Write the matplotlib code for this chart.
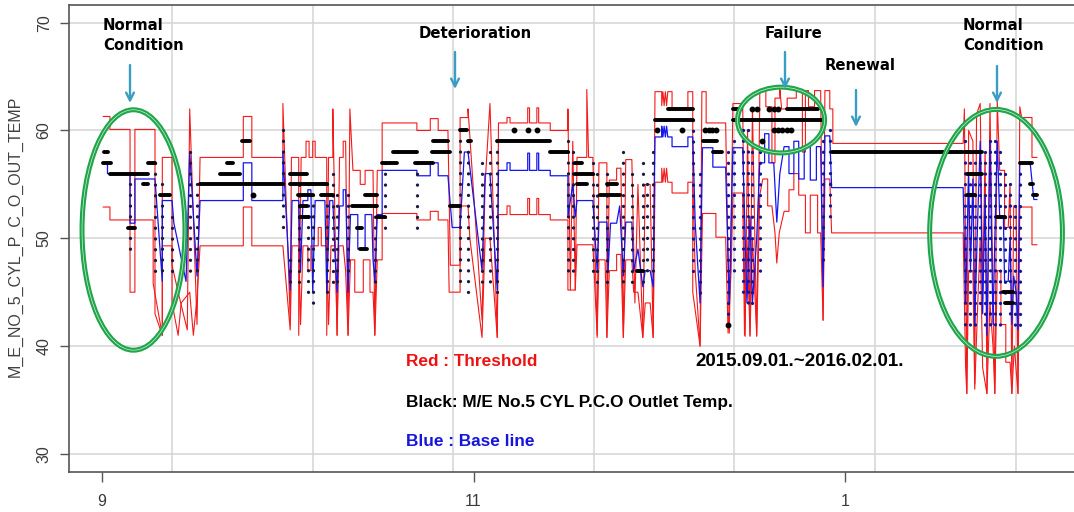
import matplotlib
matplotlib.use('Agg')
import matplotlib.pyplot as plt
from matplotlib.patches import Ellipse

# x = days since 2015-09-01, y = temperature (deg C)
upper = [
    (0.2, 61.3), (1.3, 61.3), (1.3, 60.1), (4.6, 60.1), (4.6, 45.0), (5.4, 45.0), (5.4, 60.1), (8.7, 60.1),
    (8.7, 43.0), (9.9, 41.0), (9.9, 57.5), (11.5, 57.5), (11.5, 47.5), (12.5, 45.0), (14.0, 41.5), (14.4, 62.0),
    (15.6, 42.0), (16.1, 57.5), (23.2, 57.5), (23.2, 61.3), (24.6, 61.3), (24.6, 57.5), (29.7, 57.5),
    (29.7, 62.5), (30.9, 42.4), (31.1, 57.5), (32.3, 57.5), (32.3, 41.0), (32.7, 57.5), (33.5, 57.5), (33.5, 59.0),
    (34.0, 59.0), (34.0, 57.5), (34.6, 57.5), (34.6, 59.0), (35.0, 59.0), (35.0, 57.5), (36.9, 57.5), (36.9, 41.0),
    (37.2, 57.5), (37.9, 57.5), (37.9, 62.0), (38.6, 41.0), (39.0, 57.5), (39.6, 57.5), (39.6, 59.0), (40.0, 59.0),
    (40.4, 41.0), (40.7, 62.0), (41.2, 56.3), (42.4, 56.3), (42.4, 55.0), (43.2, 55.0), (43.2, 56.3), (44.5, 56.3),
    (44.8, 41.0), (45.2, 56.3), (46.0, 56.3), (46.0, 60.7), (51.7, 60.7), (51.7, 60.0), (53.9, 60.0), (53.9, 61.1),
    (55.2, 61.1), (55.2, 60.0), (56.8, 60.0),
    (57.2, 47.5), (58.8, 47.5), (58.8, 61.2), (60.1, 61.2), (60.1, 62.0), (62.4, 42.4), (62.9, 55.0), (63.7, 62.5),
    (64.9, 40.8), (65.1, 60.7), (66.5, 60.7), (66.5, 61.2), (67.0, 61.2), (67.0, 60.7), (69.9, 60.7), (69.9, 62.1),
    (70.2, 62.1), (70.2, 60.7), (71.4, 60.7), (71.4, 62.1), (71.7, 62.1), (71.7, 60.7), (73.6, 60.7), (73.6, 60.0),
    (76.5, 60.0),
    (76.5, 62.0), (76.9, 45.2), (77.3, 59.0), (77.7, 45.2), (78.0, 57.5), (79.6, 57.5), (79.6, 63.8), (79.9, 57.5),
    (80.6, 57.5), (81.3, 40.8), (81.6, 57.0), (82.9, 57.0), (82.9, 40.8), (83.3, 55.4), (84.5, 55.4), (84.5, 56.5),
    (85.2, 56.5), (85.6, 40.8), (86.0, 57.3), (87.0, 57.3), (87.5, 44.0), (88.0, 55.0), (88.8, 40.8), (89.2, 55.0),
    (90.0, 55.0), (90.5, 40.8), (90.8, 63.6),
    (91.9, 63.6), (91.9, 62.3), (92.1, 63.6), (92.3, 62.3), (92.5, 63.6), (92.7, 62.3), (92.9, 63.6), (93.6, 63.6),
    (93.6, 62.1), (96.2, 62.1), (96.2, 63.6), (97.0, 63.6),
    (97.0, 45.0), (98.2, 40.0), (98.5, 63.6), (99.2, 63.6), (99.2, 60.7), (102.4, 60.7), (103.0, 41.2), (103.6, 62.5),
    (105.2, 62.5), (105.6, 40.9), (106.0, 60.0), (106.4, 40.9), (106.8, 62.0), (107.5, 40.9), (108.0, 62.5),
    (108.0, 63.7), (109.0, 63.7), (109.0, 62.2), (110.0, 62.2), (110.0, 57.0), (110.5, 57.0), (110.5, 63.0),
    (111.3, 63.0), (111.3, 63.8), (111.6, 62.0), (112.5, 62.0), (112.5, 63.0), (114.0, 63.0), (114.0, 63.7),
    (115.0, 63.7), (115.0, 58.0), (115.5, 58.0), (115.5, 63.7), (116.0, 63.7), (116.0, 62.2), (117.0, 62.2),
    (117.0, 63.7), (118.0, 63.7), (118.4, 42.4), (118.7, 63.7), (119.5, 63.7), (119.5, 62.0), (120.0, 62.0),
    (120.0, 58.8), (141.4, 58.8),
    (141.6, 62.0), (142.0, 35.6), (142.3, 60.0), (143.0, 59.0), (143.3, 36.5), (143.6, 61.5), (144.2, 62.5),
    (144.6, 45.0), (145.0, 58.0), (145.3, 35.6), (145.8, 62.5), (146.3, 45.0), (146.6, 35.6), (147.0, 62.8),
    (147.4, 56.3), (148.2, 56.3), (148.2, 51.0), (148.8, 51.0), (149.1, 55.0), (149.4, 35.6), (149.7, 53.0),
    (150.1, 53.0), (150.4, 35.6), (150.7, 62.2), (151.0, 61.2), (152.7, 61.2), (152.7, 57.5), (153.5, 57.5),
]

lower = [
    (0.2, 52.9), (1.3, 52.9), (1.3, 51.7), (8.4, 51.7), (8.4, 45.8), (9.9, 41.0), (9.9, 49.3), (11.5, 49.3),
    (11.5, 44.0), (12.5, 41.0), (13.0, 44.0), (14.4, 45.0), (15.0, 41.0), (15.6, 44.5), (16.1, 49.3), (23.2, 49.3),
    (23.2, 52.9), (24.6, 52.9), (24.6, 49.3), (29.7, 49.3),
    (30.9, 41.5), (31.2, 49.3), (32.3, 49.3), (32.6, 42.0), (33.0, 49.3), (33.8, 49.3), (33.8, 47.0), (34.3, 47.0),
    (34.3, 49.3), (35.5, 49.3), (35.5, 51.0), (36.0, 51.0), (36.0, 49.3), (36.9, 49.3), (37.2, 42.0), (37.6, 49.3),
    (38.3, 49.3), (38.6, 41.0), (38.9, 49.3), (39.6, 49.3), (40.0, 47.0), (40.4, 41.0), (40.8, 48.0), (41.5, 48.0),
    (41.5, 45.0), (42.9, 45.0), (42.9, 48.0), (44.0, 48.0), (44.0, 45.0), (44.5, 45.0), (44.8, 41.0), (45.2, 48.0),
    (46.0, 48.0), (46.0, 52.3), (51.7, 52.3), (51.7, 51.7), (53.9, 51.7), (53.9, 52.5), (55.2, 52.5), (55.2, 51.7),
    (56.8, 51.7),
    (57.0, 45.0), (58.8, 45.0), (58.8, 53.0), (60.1, 53.0), (60.4, 50.0), (62.4, 40.8), (62.9, 50.0), (63.7, 50.0),
    (64.9, 40.8), (65.1, 52.2), (66.5, 52.2), (66.5, 53.0), (67.0, 53.0), (67.0, 52.2), (69.9, 52.2), (69.9, 53.7),
    (70.2, 53.7), (70.2, 52.2), (71.4, 52.2), (71.4, 53.7), (71.7, 53.7), (71.7, 52.2), (73.6, 52.2), (73.6, 51.7),
    (76.5, 51.7),
    (76.5, 45.2), (77.7, 45.2), (78.0, 49.4), (80.6, 49.4), (81.3, 41.0), (81.6, 48.0), (82.6, 48.0), (82.9, 40.8),
    (83.3, 47.0), (84.5, 47.0), (84.5, 48.5), (85.2, 48.5), (85.6, 40.8), (86.0, 48.0), (87.0, 48.0), (87.3, 45.0),
    (88.0, 45.0), (88.8, 40.8), (89.2, 44.0), (90.0, 44.0), (90.5, 40.8), (90.8, 55.2),
    (91.9, 55.2), (91.9, 56.5), (92.1, 55.2), (92.3, 56.5), (92.5, 55.2), (92.7, 56.5), (92.9, 55.2), (93.6, 55.2),
    (93.6, 54.2), (96.2, 54.2), (96.2, 55.2), (97.0, 55.2), (97.4, 47.0), (98.2, 40.0), (98.6, 52.3), (100.8, 52.3),
    (100.8, 50.1), (102.4, 50.1), (102.8, 41.2), (103.3, 47.0), (103.6, 54.2), (105.2, 54.2), (105.5, 41.0),
    (105.9, 50.0), (106.4, 41.0), (106.8, 50.0), (107.5, 41.0), (108.0, 54.0),
    (108.5, 55.5), (109.3, 55.5), (109.3, 53.0), (110.0, 53.0), (110.5, 50.5), (110.8, 47.7), (111.2, 50.5),
    (112.0, 52.5), (112.8, 52.5), (112.8, 54.5), (113.6, 54.5), (113.6, 56.0), (114.4, 56.0), (114.4, 54.0),
    (115.5, 54.0), (115.5, 50.5), (116.3, 50.5), (116.3, 54.0), (117.5, 54.0), (117.5, 50.5), (118.0, 50.5),
    (118.4, 42.4), (118.7, 55.5), (119.5, 55.5), (119.8, 50.5), (141.4, 50.5),
    (141.8, 38.0), (142.0, 35.6), (142.3, 47.0), (143.0, 47.0), (143.3, 36.0), (143.8, 44.0), (144.2, 50.0),
    (144.6, 38.0), (145.3, 35.6), (145.8, 44.0), (146.3, 40.0), (146.6, 35.6), (147.0, 47.0), (147.6, 47.0),
    (147.6, 42.0), (148.4, 42.0), (148.4, 38.5), (149.1, 38.5), (149.4, 35.6), (149.8, 40.0), (150.4, 35.6),
    (150.7, 52.9), (152.7, 52.9), (152.7, 49.4), (153.5, 49.4),
]

base = [
    (0.2, 57.0), (0.9, 57.0), (0.9, 56.0), (4.6, 56.0), (4.6, 51.4), (5.4, 51.4), (5.4, 55.5), (8.7, 55.5),
    (9.9, 46.0), (9.9, 53.5), (11.5, 53.5), (11.8, 51.4), (13.8, 46.0), (14.4, 58.0), (15.6, 46.5), (16.1, 53.5),
    (23.2, 53.5), (23.2, 57.0), (24.6, 57.0), (24.6, 53.5), (29.7, 53.5),
    (29.7, 58.0), (30.9, 45.2), (31.2, 53.5), (32.3, 53.5), (32.6, 47.0), (33.0, 53.5), (33.8, 53.5), (33.8, 54.5),
    (34.3, 54.5), (34.6, 45.0), (35.0, 53.5), (36.6, 53.5), (36.9, 45.0), (37.4, 53.5), (37.9, 53.5), (38.3, 48.0),
    (38.6, 45.0), (39.0, 53.0), (39.6, 53.0), (39.6, 54.5), (40.0, 54.5), (40.4, 45.0), (40.8, 52.2), (42.0, 52.2),
    (42.0, 49.0), (43.2, 49.0), (43.2, 52.2), (44.3, 52.2), (44.5, 48.0), (44.8, 46.0), (45.2, 52.2), (46.0, 52.2),
    (46.0, 56.3), (51.7, 56.3), (51.7, 55.8), (53.9, 55.8), (53.9, 57.0), (55.2, 57.0), (55.2, 55.8), (56.8, 55.8),
    (57.5, 51.0), (58.8, 51.0), (59.5, 58.0), (60.1, 58.0), (62.4, 47.0), (62.9, 56.0), (63.7, 56.0), (64.9, 45.2),
    (65.1, 56.3), (66.5, 56.3), (66.5, 57.0), (67.0, 57.0), (67.0, 56.3), (69.9, 56.3), (69.9, 57.9), (70.2, 57.9),
    (70.2, 56.3), (71.4, 56.3), (71.4, 57.9), (71.7, 57.9), (71.7, 56.3), (73.6, 56.3), (73.6, 55.8), (76.5, 55.8),
    (76.5, 52.0), (77.3, 55.0), (77.7, 52.0), (78.0, 53.5), (80.6, 53.5), (81.3, 47.0), (81.6, 51.5), (82.9, 51.5),
    (83.1, 47.0), (83.5, 51.4), (84.5, 51.4), (85.0, 53.0), (85.6, 46.5), (86.0, 51.5), (87.0, 51.5), (87.3, 47.0),
    (88.0, 49.0), (88.8, 45.5), (89.2, 47.0), (90.0, 47.0), (90.5, 45.5), (90.8, 59.4),
    (91.9, 59.4), (91.9, 60.4), (92.1, 59.4), (92.3, 60.4), (92.5, 59.4), (92.7, 60.4), (92.9, 59.4), (93.6, 59.4),
    (93.6, 58.5), (96.2, 58.5), (96.2, 59.4), (97.0, 59.4), (97.4, 51.4), (98.2, 44.0), (98.6, 58.4), (100.3, 58.4),
    (100.3, 56.6), (102.4, 56.6), (103.0, 43.9), (103.6, 58.4), (105.2, 58.4), (105.9, 44.0), (106.4, 52.0),
    (106.8, 44.0), (107.5, 50.0), (108.0, 57.0), (108.8, 57.0), (108.8, 59.7), (109.5, 59.7), (109.5, 57.0),
    (110.3, 57.0), (110.8, 51.5), (111.3, 56.0), (112.0, 58.5), (112.8, 58.5), (112.8, 56.0), (113.6, 56.0),
    (113.6, 59.0), (114.4, 59.0), (114.4, 55.5), (115.3, 55.5), (115.3, 58.5), (116.3, 58.5), (116.3, 55.4),
    (117.3, 55.4), (117.3, 58.5), (118.0, 58.5), (118.4, 45.5), (118.7, 59.5), (119.5, 59.5), (119.8, 54.7),
    (141.4, 54.7),
    (141.8, 44.0), (142.3, 56.0), (142.6, 47.0), (143.0, 55.5), (143.3, 42.0), (143.8, 52.0), (144.2, 59.0),
    (144.6, 43.0), (145.0, 54.0), (145.3, 41.0), (145.8, 59.0), (146.3, 42.0), (146.6, 50.0), (147.0, 59.0),
    (147.4, 52.0), (148.0, 52.0), (148.2, 46.0), (148.8, 46.0), (149.1, 50.0), (149.4, 42.0), (149.7, 46.5),
    (150.1, 45.0), (150.4, 41.5), (150.7, 57.0), (152.4, 57.0), (153.0, 53.6), (153.5, 53.6),
]

# outlet temp: dense runs of readings (start day, end day, temp)
temp_runs = [
    (0.3, 1.0, 58), (0.2, 1.5, 57), (1.3, 7.6, 56), (4.3, 5.4, 51), (6.7, 7.6, 55), (7.6, 8.7, 57), (9.5, 11.2, 54),
    (16.1, 29.7, 55), (19.4, 22.7, 56), (20.5, 21.5, 57), (23.0, 24.3, 59),
    (30.9, 36.9, 55), (30.9, 33.7, 56), (32.2, 34.6, 54), (32.5, 33.7, 53), (32.5, 34.0, 52), (36.0, 38.0, 54),
    (41.0, 45.2, 53), (43.2, 45.2, 54), (41.9, 42.7, 51), (42.4, 43.5, 49), (45.2, 46.5, 52),
    (46.0, 48.4, 57), (47.8, 51.7, 58), (51.4, 54.4, 57), (54.2, 57.1, 58), (54.4, 56.8, 59), (57.1, 58.8, 53),
    (58.8, 59.9, 60), (60.1, 60.6, 59),
    (64.9, 73.6, 59), (73.6, 76.5, 58),
    (77.7, 80.6, 56), (78.0, 79.6, 55), (77.7, 78.8, 57), (81.8, 85.1, 54), (82.9, 84.5, 55), (87.8, 88.8, 47),
    (90.8, 97.0, 61), (93.0, 97.0, 62),
    (98.7, 101.0, 59), (100.3, 101.8, 58), (103.6, 105.0, 62), (103.6, 104.8, 61),
    (105.0, 118.4, 61), (112.5, 117.6, 62),
    (119.8, 141.4, 58),
    (141.7, 144.5, 58), (142.0, 144.5, 56), (142.0, 143.3, 54), (147.0, 148.3, 52), (148.0, 149.6, 45),
    (148.3, 149.6, 44), (150.7, 152.7, 57), (152.4, 152.9, 55), (152.9, 153.5, 54),
]

# isolated readings (day, temp)
temp_dots = [
    (24.8, 54), (67.7, 60), (70.0, 60), (71.5, 60), (91.2, 60), (95.2, 60), (99.0, 60), (99.6, 60), (100.2, 60),
    (100.8, 60), (106.8, 62), (107.5, 62), (109.5, 62), (110.3, 62), (111.0, 62), (110.3, 60), (111.0, 60),
    (111.7, 60), (112.4, 60), (113.1, 60), (108.4, 59), (102.8, 42),
]

# fast drops: (day, top temp, bottom temp), one reading per degree
temp_cols = [
    (4.6, 55, 49), (8.7, 57, 46), (9.9, 55, 46), (11.5, 52, 46), (14.4, 58, 46), (15.6, 55, 46),
    (29.7, 60, 51), (30.9, 48, 45), (32.3, 56, 45), (33.8, 55, 45), (34.6, 55, 44), (36.9, 55, 45), (37.9, 56, 45),
    (38.6, 54, 45), (40.4, 54, 46), (44.8, 53, 45), (46.5, 57, 50),
    (51.7, 57, 50), (58.8, 60, 46), (60.1, 59, 45), (62.4, 57, 45), (63.7, 58, 45), (64.9, 59, 45),
    (76.5, 59, 46), (77.3, 58, 47), (80.6, 57, 46), (81.3, 56, 45), (82.9, 56, 45), (85.6, 58, 45), (87.0, 56, 45),
    (88.8, 57, 45), (89.5, 55, 46), (90.5, 58, 46),
    (97.0, 61, 47), (98.2, 56, 44), (102.8, 58, 43), (103.8, 59, 47), (105.2, 60, 45), (106.1, 60, 44),
    (106.7, 58, 44), (108.0, 58, 47), (118.4, 59, 48), (119.5, 60, 52),
    (141.7, 59, 42), (142.5, 58, 41), (143.3, 58, 41), (144.2, 58, 44), (145.0, 58, 42), (145.8, 59, 41),
    (146.6, 59, 41), (147.4, 58, 42), (148.3, 56, 44), (149.1, 55, 43), (149.9, 53, 41), (150.7, 57, 41),
]

month_ticks = [0, 61, 122]
month_labels = ['9', '11', '1']
grid_days = [11.5, 34.6, 57.6, 80.8, 103.8, 126.9, 150.1]
y_ticks = [30, 40, 50, 60, 70]

W, H = 10.74, 5.12
fig = plt.figure(figsize=(W, H), dpi=100)
ax_pos = [69 / 1074, 40 / 512, 1 - 69 / 1074, 467 / 512]
ax = fig.add_axes(ax_pos)
ymin, ymax = 28.32, 71.64
ax.set_xlim(-5.42, 159.6)
ax.set_ylim(ymin, ymax)

ax.plot([p[0] for p in upper], [p[1] for p in upper], color='#f41a1a', lw=0.8, zorder=2)
ax.plot([p[0] for p in lower], [p[1] for p in lower], color='#f41a1a', lw=0.8, zorder=2)
ax.plot([p[0] for p in base], [p[1] for p in base], color='#1515ee', lw=0.9, zorder=3)

# dotted columns, dot pitch = 1 degree; darker on the left, bluer on the right
pt_per_deg = ax_pos[3] * H * 72 / (ymax - ymin)
dot_lw = 2.4
for d, top, bot in temp_cols:
    c = '#1a1a40' if d < 95 else '#16168a'
    ax.plot([d, d], [top, bot], color=c, lw=dot_lw, dashes=(0.01, pt_per_deg / dot_lw - 0.01),
            dash_capstyle='round', zorder=4)
for s, e, t in temp_runs:
    ax.plot([s, e], [t, t], color='black', lw=2.8, solid_capstyle='round', zorder=4)
ax.plot([p[0] for p in temp_dots], [p[1] for p in temp_dots], 'o', color='black', ms=3.2, zorder=4)

# axes styling
ax.set_yticks(y_ticks)
ax.set_yticklabels([str(v) for v in y_ticks], rotation=90, va='center', fontsize=11.5, color='#3a3a3a',
                   family=['Liberation Sans', 'DejaVu Sans'])
ax.set_xticks(month_ticks)
ax.set_xticklabels(month_labels, fontsize=11.5, color='#3a3a3a',
                   family=['Liberation Sans Narrow', 'Liberation Sans', 'DejaVu Sans'])
ax.set_xticks(grid_days, minor=True)
ax.tick_params(axis='y', direction='out', length=6.5, width=1, color='#555555', pad=6)
ax.tick_params(axis='x', which='major', direction='out', length=7, width=1, color='#555555', pad=9)
ax.tick_params(axis='x', which='minor', length=0)
ax.yaxis.grid(True, color='#d4d4d4', lw=1.1)
ax.xaxis.grid(True, which='minor', color='#d4d4d4', lw=1.1)
ax.set_axisbelow(True)
for side in ['left', 'bottom', 'top']:
    ax.spines[side].set_color('#555555')
    ax.spines[side].set_linewidth(1.2)
ax.spines['right'].set_visible(False)

fig.text(15 / 1074, 1 - 236 / 512, 'M_E_NO_5_CYL_P_C_O_OUT_TEMP', rotation=90, ha='center', va='center',
         fontsize=11.5, color='#404040', family=['Liberation Sans', 'DejaVu Sans'])

# highlight ellipses
green = '#1fa64a'
for cx, cy, w, h in [(5.17, 50.77, 16.9, 22.3), (111.5, 60.97, 14.3, 6.1), (146.8, 50.5, 21.8, 22.9)]:
    ax.add_patch(Ellipse((cx, cy), w, h, fill=False, ec=green, lw=3.6, zorder=6, clip_on=False))
    ax.add_patch(Ellipse((cx, cy), w, h, fill=False, ec='white', lw=0.5, alpha=0.8, zorder=7, clip_on=False))

# event labels and arrows
lab = dict(fontsize=10.7, fontweight='bold', color='black', family='DejaVu Sans')
fig.text(103 / 1074, 1 - 26 / 512, 'Normal', ha='left', va='center', **lab)
fig.text(103 / 1074, 1 - 45 / 512, 'Condition', ha='left', va='center', **lab)
fig.text(963 / 1074, 1 - 26 / 512, 'Normal', ha='left', va='center', **lab)
fig.text(963 / 1074, 1 - 45 / 512, 'Condition', ha='left', va='center', **lab)
fig.text(475 / 1074, 1 - 33 / 512, 'Deterioration', ha='center', va='center', **lab)
fig.text(793 / 1074, 1 - 33 / 512, 'Failure', ha='center', va='center', **lab)
fig.text(860 / 1074, 1 - 65 / 512, 'Renewal', ha='center', va='center', **lab)

teal = '#3a9dc2'
for x, y0, y1 in [(130, 65, 103), (455, 52, 89), (785, 52, 89), (856, 90, 127), (997, 66, 103)]:
    ax.annotate('', xy=(x / 1074, 1 - y1 / 512), xytext=(x / 1074, 1 - y0 / 512),
                xycoords='figure fraction', textcoords='figure fraction',
                arrowprops=dict(arrowstyle='->', color=teal, lw=1.7, mutation_scale=14,
                                shrinkA=0, shrinkB=0), zorder=8)

leg = dict(fontsize=12.4, fontweight='bold', family=['Liberation Sans', 'DejaVu Sans'], va='center', ha='left')
fig.text(406 / 1074, 1 - 362 / 512, 'Red : Threshold', color='#ee1111', **leg)
fig.text(406 / 1074, 1 - 402 / 512, 'Black: M/E No.5 CYL P.C.O Outlet Temp.', color='black', **leg)
fig.text(406 / 1074, 1 - 441 / 512, 'Blue : Base line', color='#1515dd', **leg)
fig.text(695 / 1074, 1 - 362 / 512, '2015.09.01.~2016.02.01.', color='black', fontsize=13.5, fontweight='bold',
         family=['Liberation Sans', 'DejaVu Sans'], va='center', ha='left')

fig.savefig('out.png', dpi=100)
